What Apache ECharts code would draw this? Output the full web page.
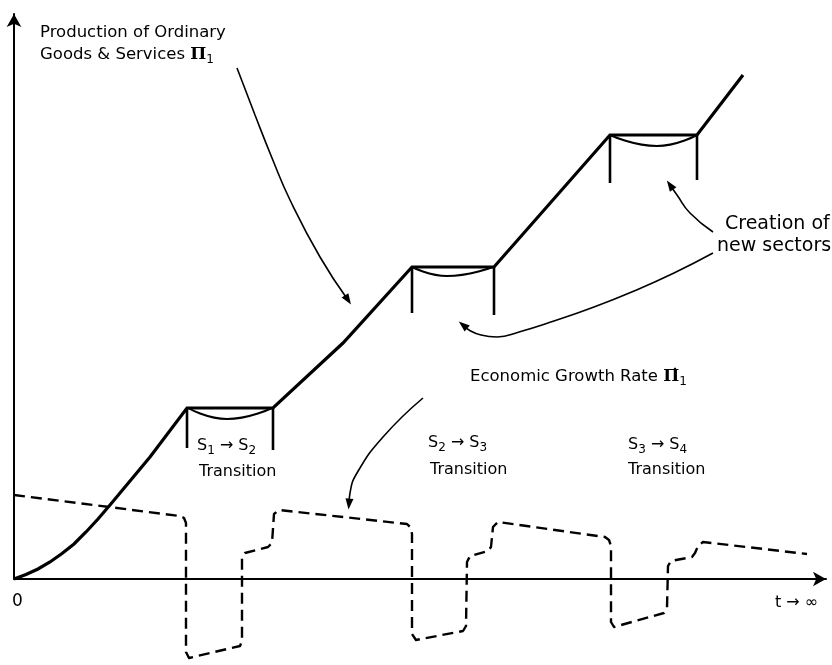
<!DOCTYPE html>
<html>
<head>
<meta charset="utf-8">
<script src="https://cdn.jsdelivr.net/npm/echarts@6/dist/echarts.min.js"></script>
<style>
  html, body { margin: 0; background: #fff; }
  #chart { width: 832px; height: 665px; }
</style>
</head>
<body>
<div id="chart"></div>
<script>
// schematic units: t along x, level along y (origin = 0,0)
const production = [[0, 0], [12, 4.5], [24, 10], [36, 17], [48, 25.5], [60, 35], [72, 47], [84, 60], [96, 74],
  [136, 122], [173, 171], [259, 171], [329, 236], [398, 312], [480, 312], [596, 444], [683, 444], [729, 504]]

const sags = [
  [[174, 171], [213, 160], [258, 171]],
  [[398, 312], [433, 303], [479, 312]],
  [[596, 444], [643, 433], [683, 444]],
]

const plateauTicks = [
  [[173, 171], [173, 131]], [[259, 171], [259, 129]],
  [[398, 312], [398, 266]], [[480, 312], [480, 264]],
  [[596, 444], [596, 396]], [[683, 444], [683, 399]],
]

const growthRate = [[0, 84], [166, 63], [170, 61], [172, 56], [172, -73], [175, -79], [226, -67], [228, -62],
  [228, 21], [231, 26], [254, 32], [258, 36], [260, 65], [265, 69], [393, 55], [397, 51], [398, 45],
  [398, -55], [402, -61], [449, -52], [452, -47], [453, 17], [456, 23], [474, 28], [477, 32], [479, 52],
  [484, 57], [591, 42], [595, 39], [597, 33], [597, -43], [600, -48], [650, -34], [653, -29], [654, 13],
  [657, 18], [678, 22], [681, 26], [684, 33], [689, 37], [793, 25]]

const pointers = [
  [[223, 511], [241, 464], [258, 421], [276, 379], [306, 322], [334, 279]],
  [[699, 326], [660, 306], [620, 288], [580, 272], [540, 258], [505, 247], [483, 242], [467, 244], [455, 249], [449, 254]],
  [[699, 347], [676, 366], [663, 384], [656, 394]],
  [[409, 181], [369, 142], [343, 106], [336, 86], [335, 75]],
]

const labels = {
  production: ['Production of Ordinary', 'Goods & Services {pi|Π}{sub|1}'],
  creation: ['Creation of', 'new sectors'],
  growth: 'Economic Growth Rate {pi|Π̇}{sub|1}',
  transitions: [['{n|S}{sub|1}{n| → S}{sub|2}', 'Transition'], ['{n|S}{sub|2}{n| → S}{sub|3}', 'Transition'], ['{n|S}{sub|3}{n| → S}{sub|4}', 'Transition']],
  origin: '0',
  time: 't → ∞',
}

const ink = '#000'
const font = 'DejaVu Sans'
const rich = {
  n: { fontSize: 16, fontFamily: font, fill: ink },
  sub: { fontSize: 12, fontFamily: font, fill: ink, padding: [9, 0, 0, 0] },
  pi: { fontSize: 17, fontFamily: 'DejaVu Serif', fontWeight: 'bold', fill: ink },
}

function text(x, y, str, size) {
  return {
    type: 'text', x, y,
    style: { text: str, fill: ink, fontFamily: font, fontSize: size || 16, verticalAlign: 'middle', rich },
  }
}

function arrowSeries(points) {
  const n = points.length
  const dx = points[n - 1][0] - points[n - 2][0]
  const dy = points[n - 1][1] - points[n - 2][1]
  const rotate = Math.atan2(-dx, dy) * 180 / Math.PI
  return {
    type: 'line', smooth: true, clip: false, silent: true,
    showSymbol: true,
    lineStyle: { color: ink, width: 1.6 },
    itemStyle: { color: ink },
    data: points.map((p, i) => i === n - 1
      ? { value: p, symbol: 'triangle', symbolSize: [8, 11], symbolRotate: rotate }
      : { value: p, symbol: 'none' }),
  }
}

const chart = echarts.init(document.getElementById('chart'), null, { renderer: 'canvas' })

chart.setOption({
  animation: false,
  backgroundColor: '#fff',
  grid: { left: 14, right: 6, top: 14, bottom: 86 },
  xAxis: {
    type: 'value', min: 0, max: 812,
    axisLine: { show: true, lineStyle: { color: ink, width: 2 }, symbol: ['none', 'arrow'], symbolSize: [11, 13] },
    axisTick: { show: false }, axisLabel: { show: false }, splitLine: { show: false },
  },
  yAxis: {
    type: 'value', min: 0, max: 565,
    axisLine: { show: true, lineStyle: { color: ink, width: 2 }, symbol: ['none', 'arrow'], symbolSize: [11, 13] },
    axisTick: { show: false }, axisLabel: { show: false }, splitLine: { show: false },
  },
  series: [
    {
      type: 'line', data: production, symbol: 'none', clip: false, silent: true,
      lineStyle: { color: ink, width: 3.2, join: 'miter' },
    },
    ...sags.map((s) => ({
      type: 'line', data: s, smooth: true, symbol: 'none', clip: false, silent: true,
      lineStyle: { color: ink, width: 2 },
    })),
    ...plateauTicks.map((s) => ({
      type: 'line', data: s, symbol: 'none', clip: false, silent: true,
      lineStyle: { color: ink, width: 2.6 },
    })),
    {
      type: 'line', data: growthRate, symbol: 'none', clip: false, silent: true,
      lineStyle: { color: ink, width: 2.4, type: [11, 6], join: 'round' },
    },
    ...pointers.map(arrowSeries),
  ],
  graphic: [
    text(40, 33, labels.production[0], 16.5),
    text(40, 55, labels.production[1], 16.5),
    text(725, 224, labels.creation[0], 19),
    text(717, 246, labels.creation[1], 19),
    text(470, 377, labels.growth, 16.5),
    text(197, 446, labels.transitions[0][0]),
    text(199, 472, labels.transitions[0][1]),
    text(428, 443, labels.transitions[1][0]),
    text(430, 470, labels.transitions[1][1]),
    text(628, 445, labels.transitions[2][0]),
    text(628, 470, labels.transitions[2][1]),
    text(12, 602, labels.origin, 17),
    text(775, 603, labels.time, 16),
  ],
})
</script>
</body>
</html>
